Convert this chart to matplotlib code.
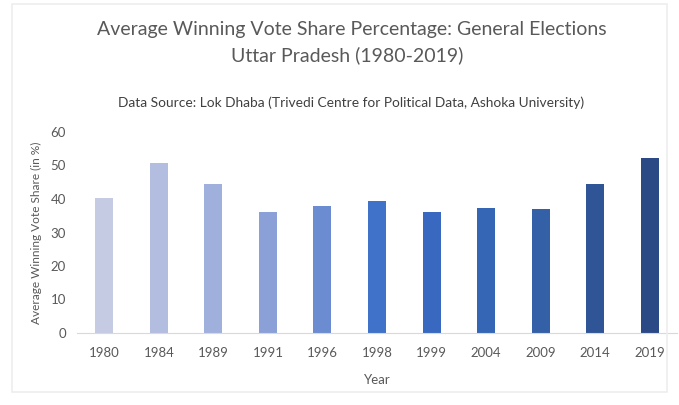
import matplotlib
matplotlib.use("Agg")
import matplotlib.pyplot as plt
from matplotlib.patches import Rectangle

years = ["1980", "1984", "1989", "1991", "1996", "1998", "1999", "2004", "2009", "2014", "2019"]
vote_share = [40.4, 50.8, 44.6, 36.1, 37.9, 39.5, 36.1, 37.2, 36.9, 44.6, 52.3]
bar_colors = ["#c4cbe3", "#b3bde0", "#9fb0dc", "#8aa0d6", "#6b8cd0", "#3f72c8",
              "#3868c0", "#3565b5", "#3460a8", "#2f5596", "#2b4a85"]

plt.rcParams["font.family"] = ["Lato", "DejaVu Sans"]
grey = "#595959"

fig = plt.figure(figsize=(6.79, 4.05), dpi=100)
fig.patches.append(Rectangle((12 / 679, 13 / 405), 655 / 679, 388 / 405, transform=fig.transFigure,
                             fill=False, edgecolor="#eeeeee", linewidth=1.2))

ax = fig.add_axes([77 / 679, 1 - 333 / 405, 600 / 679, 201 / 405])
x = range(len(years))
ax.bar(x, vote_share, width=0.33, color=bar_colors)
ax.set_xlim(-0.5, len(years) - 0.5)
ax.set_ylim(0, 60)
ax.set_yticks(range(0, 61, 10))
ax.set_xticks(list(x))
ax.set_xticklabels(years)
ax.tick_params(length=0, labelsize=9.5, colors=grey)
ax.tick_params(axis="x", pad=10)
ax.tick_params(axis="y", pad=8)
for side in ["top", "right", "left"]:
    ax.spines[side].set_visible(False)
ax.spines["bottom"].set_color("#d9d9d9")
ax.set_xlabel("Year", fontsize=9.5, color=grey, labelpad=11)
ax.set_ylabel("Average Winning Vote Share (in %)", fontsize=8.6, color=grey, labelpad=6)

fig.text(352 / 679, 1 - 30 / 405, "Average Winning Vote Share Percentage: General Elections",
         ha="center", va="center", fontsize=14, color=grey)
fig.text(347 / 679, 1 - 55 / 405, "Uttar Pradesh (1980-2019)",
         ha="center", va="center", fontsize=14, color=grey)
fig.text(351 / 679, 1 - 103 / 405, "Data Source: Lok Dhaba (Trivedi Centre for Political Data, Ashoka University)",
         ha="center", va="center", fontsize=9.9, color="#404040")

fig.savefig("out.png", dpi=100)
